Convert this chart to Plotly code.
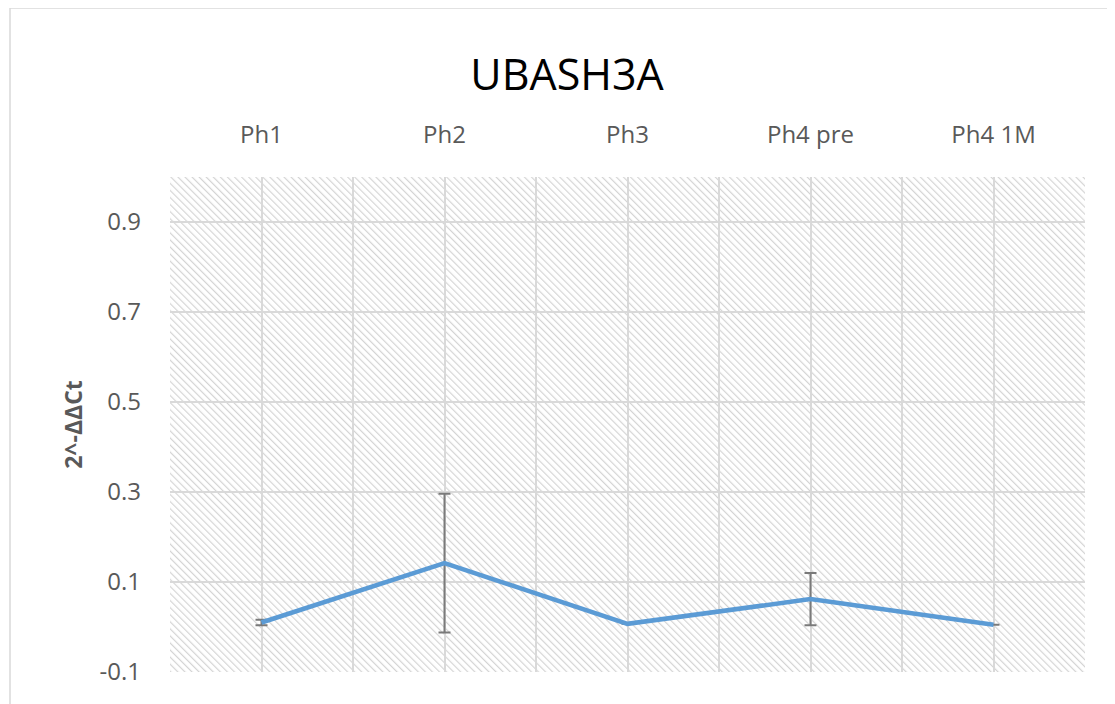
import base64
import plotly.graph_objects as go

categories = ["Ph1", "Ph2", "Ph3", "Ph4 pre", "Ph4 1M"]
values = [0.010, 0.142, 0.007, 0.062, 0.005]
errors = [0.006, 0.154, 0.0, 0.058, 0.0]
y_ticks = [-0.1, 0.1, 0.3, 0.5, 0.7, 0.9]

positions = list(range(len(categories)))

# page body has an 8px margin, so the figure is drawn 8px in from the window edge
W, H = 1107, 696
L, R, T, B = 162, 30, 169, 32
pw, ph = W - L - R, H - T - B

svg = (
    f"<svg xmlns='http://www.w3.org/2000/svg' width='{pw}' height='{ph}'>"
    "<defs><pattern id='p' width='5' height='5' patternUnits='userSpaceOnUse' "
    "patternTransform='rotate(-45)'>"
    "<line x1='0' y1='-1' x2='0' y2='6' stroke='#d4d4d4' stroke-width='2.4'/>"
    "</pattern></defs>"
    f"<rect width='{pw}' height='{ph}' fill='url(#p)'/></svg>"
)
src = "data:image/svg+xml;base64," + base64.b64encode(svg.encode()).decode()

fig = go.Figure()
fig.add_trace(go.Scatter(
    x=positions, y=values, mode="lines",
    line=dict(color="#5B9BD5", width=4.5),
    error_y=dict(type="data", array=errors, visible=True,
                 color="#7A7A7A", thickness=2, width=6),
    showlegend=False,
))

font_family = "Open Sans, Liberation Sans, sans-serif"
fig.update_layout(
    width=W, height=H,
    margin=dict(l=L, r=R, t=T, b=B),
    paper_bgcolor="white", plot_bgcolor="rgba(0,0,0,0)",
    title=dict(text="UBASH3A", x=559 / W, xref="container", xanchor="center",
               y=1 - 67 / H, yanchor="middle", yref="container",
               font=dict(family=font_family, size=43, color="#000000")),
    images=[dict(source=src, xref="paper", yref="paper", x=0, y=1,
                 sizex=1, sizey=1, xanchor="left", yanchor="top",
                 sizing="stretch", layer="below")],
    xaxis=dict(
        side="top", range=[-0.5, len(categories) - 0.5],
        tickmode="array", tickvals=positions, ticktext=categories,
        showgrid=True, gridcolor="#d9d9d9", gridwidth=1.5,
        minor=dict(tickmode="array",
                   tickvals=[p - 0.5 for p in positions] + [positions[-1] + 0.5],
                   showgrid=True, gridcolor="#d9d9d9", gridwidth=1.5),
        ticks="", ticklabelstandoff=28, zeroline=False,
        showline=False,
        tickfont=dict(family=font_family, size=24, color="#595959"),
    ),
    yaxis=dict(
        range=[-0.1, 1.0], tickmode="array", tickvals=y_ticks,
        ticktext=[f"{v:.1f}" for v in y_ticks],
        showgrid=True, gridcolor="#d9d9d9", gridwidth=1.5, zeroline=False,
        ticks="", ticklabelstandoff=28,
        tickfont=dict(family=font_family, size=24, color="#595959"),
        title=dict(text="<b>2^-ΔΔCt</b>", standoff=10,
                   font=dict(family=font_family, size=23, color="#595959")),
    ),
    shapes=[
        dict(type="line", xref="paper", yref="paper",
             x0=(2 - L) / pw, x1=(W - L) / pw,
             y0=(H - B) / ph, y1=(H - B) / ph,
             line=dict(color="#d9d9d9", width=1.5)),
        dict(type="line", xref="paper", yref="paper",
             x0=(2 - L) / pw, x1=(2 - L) / pw,
             y0=(H - B) / ph, y1=-B / ph,
             line=dict(color="#d9d9d9", width=1.5)),
    ],
)

fig.write_html("out.html")
